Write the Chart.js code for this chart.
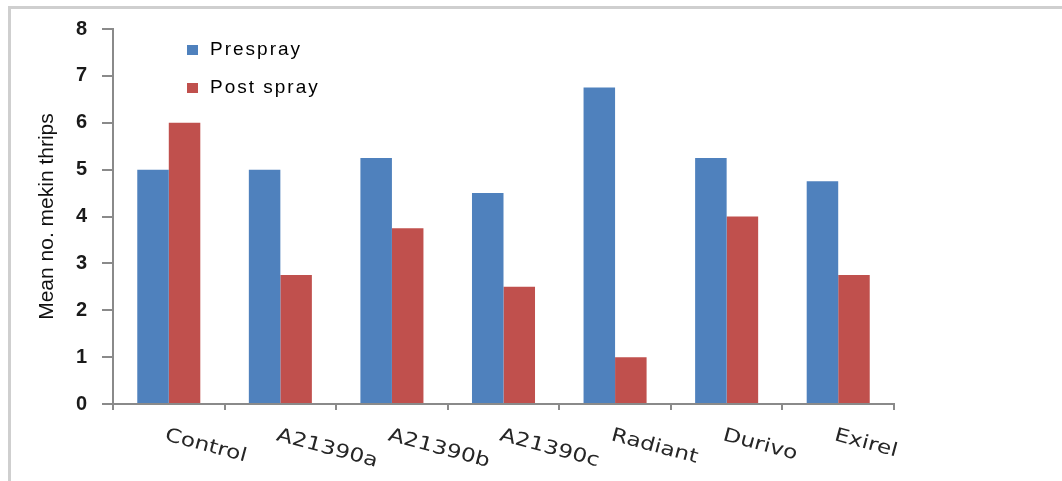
<!DOCTYPE html>
<html><head><meta charset="utf-8">
<script src="https://cdn.jsdelivr.net/npm/chart.js@4/dist/chart.umd.min.js"></script>
<style>
html,body{margin:0;padding:0;background:#fff;}
#wrap{position:relative;width:1062px;height:481px;overflow:hidden;background:#fff;}
#frame{position:absolute;left:8px;top:6px;width:1200px;height:700px;border-left:3px solid #cfcfcf;border-top:3px solid #cfcfcf;}
canvas{position:absolute;left:0;top:0;}
</style></head><body>
<div id="wrap"><div id="frame"></div><canvas id="c" width="1062" height="481"></canvas></div>
<script>
const categories = ["Control", "A21390a", "A21390b", "A21390c", "Radiant", "Durivo", "Exirel"];
const prespray = [5, 5, 5.25, 4.5, 6.75, 5.25, 4.75];
const postSpray = [6, 2.75, 3.75, 2.5, 1, 4, 2.75];
const seriesNames = ["Prespray", "Post spray"];
const seriesColors = ["#4F81BD", "#C0504D"];
const yTickValues = [0, 1, 2, 3, 4, 5, 6, 7, 8];
const yTitle = "Mean no. mekin thrips";

const xLabelPlugin = {
  id: 'xLabels',
  afterDraw(chart) {
    const ctx = chart.ctx;
    const xs = chart.scales.x;
    const baseY = chart.chartArea.bottom;
    ctx.save();
    ctx.fillStyle = '#262626';
    ctx.font = '19px "DejaVu Sans"';
    ctx.textAlign = 'left';
    ctx.textBaseline = 'top';
    categories.forEach((lab, i) => {
      const x = xs.getPixelForValue(i);
      ctx.save();
      ctx.translate(x - 1, baseY + 22);
      ctx.rotate(15 * Math.PI / 180);
      ctx.scale(1.22, 1);
      ctx.fillText(lab, 0, 0);
      ctx.restore();
    });
    ctx.restore();
  }
};

const legendPlugin = {
  id: 'customLegend',
  afterDraw(chart) {
    const ctx = chart.ctx;
    ctx.save();
    ctx.font = '19px "Liberation Sans"';
    try { ctx.letterSpacing = '2px'; } catch (e) {}
    ctx.textBaseline = 'middle';
    ctx.textAlign = 'left';
    const rows = [50, 88];
    chart.data.datasets.forEach((ds, i) => {
      ctx.fillStyle = ds.backgroundColor;
      ctx.fillRect(187, rows[i] - 5, 11, 10);
      ctx.fillStyle = '#000';
      ctx.fillText(ds.label, 210, rows[i]);
    });
    ctx.restore();
  }
};

new Chart(document.getElementById('c'), {
  type: 'bar',
  data: {
    labels: categories,
    datasets: [
      { label: seriesNames[0], data: prespray, backgroundColor: seriesColors[0], borderWidth: 0 },
      { label: seriesNames[1], data: postSpray, backgroundColor: seriesColors[1], borderWidth: 0 }
    ]
  },
  options: {
    responsive: false,
    devicePixelRatio: 1,
    animation: false,
    layout: { padding: { top: 29, right: 168, left: 0, bottom: 0 } },
    plugins: { legend: { display: false }, tooltip: { enabled: false } },
    datasets: { bar: { categoryPercentage: 0.565, barPercentage: 1.0 } },
    scales: {
      x: {
        offset: true,
        grid: { display: true, offset: true, drawOnChartArea: false, drawTicks: true, tickLength: 6, color: '#8a8a8a', lineWidth: 2 },
        border: { display: true, color: '#8a8a8a', width: 2 },
        ticks: { display: false },
        afterFit(scale) { scale.height = 77; }
      },
      y: {
        min: 0, max: 8,
        afterBuildTicks(scale) { scale.ticks = yTickValues.map(v => ({ value: v })); },
        grid: { display: true, drawOnChartArea: false, drawTicks: true, tickLength: 11, color: '#8a8a8a', lineWidth: 2 },
        border: { display: true, color: '#8a8a8a', width: 2 },
        ticks: { color: '#1a1a1a', font: { family: 'Liberation Sans', size: 20, weight: 'bold' }, padding: 15 },
        title: { display: true, text: yTitle, color: '#111', font: { family: 'Liberation Sans', size: 21 }, padding: { top: 35, bottom: 0 } },
        afterFit(scale) { scale.width = 113; }
      }
    }
  },
  plugins: [xLabelPlugin, legendPlugin]
});
</script>
</body></html>
